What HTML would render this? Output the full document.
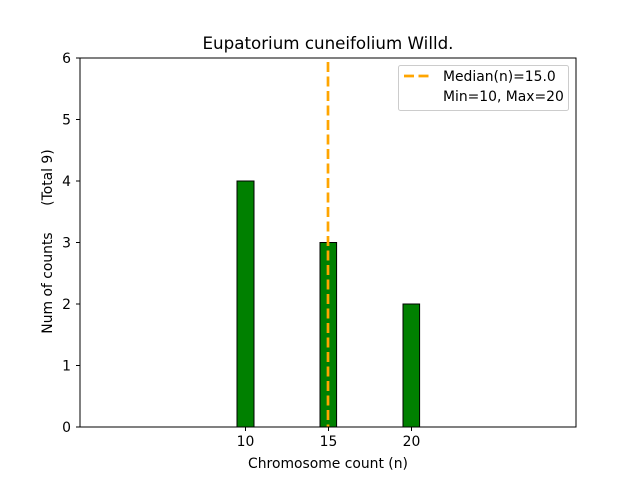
<!DOCTYPE html>
<html><head><meta charset="utf-8"><style>body{margin:0;background:#fff}</style></head>
<body>
<svg width="640" height="480" xmlns="http://www.w3.org/2000/svg" font-family="'DejaVu Sans','Liberation Sans',sans-serif">
<rect width="640" height="480" fill="#fff"/>
<line x1="80" y1="427" x2="468" y2="427" stroke="#000" stroke-width="1"/>
<rect x="237" y="181" width="17" height="246" fill="#008000" stroke="#000" stroke-width="1"/>
<rect x="320" y="242.5" width="16.6" height="184.5" fill="#008000" stroke="#000" stroke-width="1"/>
<rect x="403" y="304" width="16.6" height="123" fill="#008000" stroke="#000" stroke-width="1"/>
<line x1="328" y1="62" x2="328" y2="427" stroke="#ffa500" stroke-width="2.7" stroke-dasharray="10,4.5"/>
<rect x="80" y="58" width="496" height="369" fill="none" stroke="#000" stroke-width="1"/>
<g stroke="#000">
<line x1="76" y1="427" x2="80" y2="427"/><line x1="76" y1="365.5" x2="80" y2="365.5"/><line x1="76" y1="304" x2="80" y2="304"/><line x1="76" y1="242.5" x2="80" y2="242.5"/><line x1="76" y1="181" x2="80" y2="181"/><line x1="76" y1="119.5" x2="80" y2="119.5"/><line x1="76" y1="58" x2="80" y2="58"/>
<line x1="245.5" y1="427" x2="245.5" y2="431"/><line x1="328.5" y1="427" x2="328.5" y2="431"/><line x1="411.5" y1="427" x2="411.5" y2="431"/>
</g>
<g font-size="13.9" text-anchor="end">
<text x="71" y="432">0</text><text x="71" y="370.5">1</text><text x="71" y="309">2</text><text x="71" y="247.5">3</text><text x="71" y="186">4</text><text x="71" y="124.5">5</text><text x="71" y="63">6</text>
</g>
<g font-size="13.9" text-anchor="middle">
<text x="245.5" y="446">10</text><text x="328.5" y="446">15</text><text x="411.5" y="446">20</text>
<text x="328" y="468">Chromosome count (n)</text>
<text x="328" y="49" font-size="16.7">Eupatorium cuneifolium Willd.</text>
<text transform="translate(52,241.5) rotate(-90)" xml:space="preserve">Num of counts      (Total 9)</text>
</g>
<rect x="398.5" y="65.5" width="170" height="45" rx="2" fill="#fff" stroke="#ccc"/>
<line x1="404" y1="76" x2="432" y2="76" stroke="#ffa500" stroke-width="2.7" stroke-dasharray="10,4.5"/>
<text x="443" y="81" font-size="13.9">Median(n)=15.0</text>
<text x="443" y="101" font-size="13.9">Min=10, Max=20</text>
</svg>
</body></html>
